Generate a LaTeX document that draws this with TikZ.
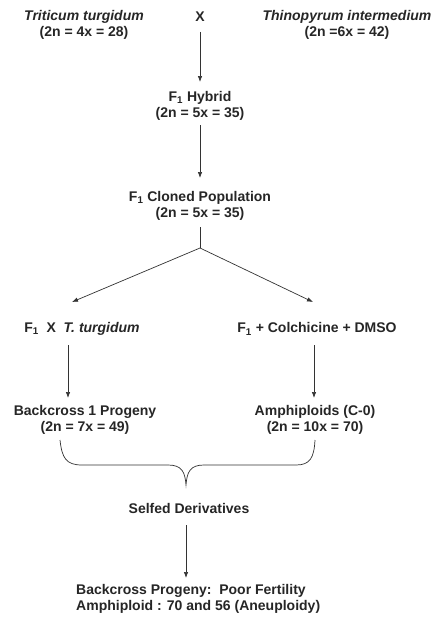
\documentclass[tikz,border=0pt]{standalone}
\usepackage{fontspec}
\setmainfont{Liberation Sans}
\usetikzlibrary{arrows.meta}
\begin{document}
\begin{tikzpicture}[x=1pt,y=-1pt,
  lbl/.style={font=\bfseries\fontsize{14}{16.5}\selectfont, align=center, inner sep=0pt, text=black!85},
  arr/.style={draw=black!80, line width=0.7pt, -{Latex[length=6pt,width=4.5pt]}},
  ln/.style={draw=black!80, line width=0.7pt}]
\useasboundingbox (0,0) rectangle (435,618);
\fill[white] (0,0) rectangle (435,618);
\node[lbl] (tt) at (84,25) {\itshape Triticum turgidum\\(2n = 4x = 28)};
\node[lbl] (x) at (200,17) {X};
\node[lbl] (ti) at (347,25) {\itshape Thinopyrum intermedium\\(2n =6x = 42)};
\node[lbl] (f1) at (200,106) {F\textsubscript{1} Hybrid\\(2n = 5x = 35)};
\node[lbl] (cl) at (200,206) {F\textsubscript{1} Cloned Population\\(2n = 5x = 35)};
\node[lbl] (bx) at (82,329) {F\textsubscript{1}\ \ X\ \ \textit{T. turgidum}};
\node[lbl] (co) at (317,329) {F\textsubscript{1} + Colchicine + DMSO};
\node[lbl] (bc) at (85,420) {Backcross 1 Progeny\\(2n = 7x = 49)};
\node[lbl] (am) at (315,420) {Amphiploids (C-0)\\(2n = 10x = 70)};
\node[lbl] (sd) at (189,508) {Selfed Derivatives};
\node[lbl, align=left, anchor=west] (fin) at (76,599) {Backcross Progeny:\ \ Poor Fertility\\Amphiploid : 70 and 56 (Aneuploidy)};
\coordinate (s1) at (200,32);
\coordinate (e1) at (200,82);
\coordinate (s2) at (200,125);
\coordinate (e2) at (200,178);
\coordinate (s3) at (200,227);
\coordinate (fork) at (200,248);
\coordinate (eL) at (72,302);
\coordinate (eR) at (313,302);
\coordinate (bl) at (60,440);
\coordinate (br) at (315,440);
\coordinate (tip) at (186,485);
\draw[arr] (s1) -- (e1);
\draw[arr] (s2) -- (e2);
\draw[ln] (s3) -- (fork);
\draw[arr] (fork) -- (eL);
\draw[arr] (fork) -- (eR);
\draw[arr] (68,345) -- (68,398);
\draw[arr] (314,345) -- (314,398);
\draw[ln] (bl) .. controls (62,458) and (66,465) .. (82,465) -- (168,465)
  .. controls (182,465) and (185,472) .. (tip)
  .. controls (187,472) and (190,465) .. (204,465) -- (296,465)
  .. controls (310,465) and (314,458) .. (br);
\draw[arr] (186,525) -- (186,578);
\end{tikzpicture}
\end{document}
